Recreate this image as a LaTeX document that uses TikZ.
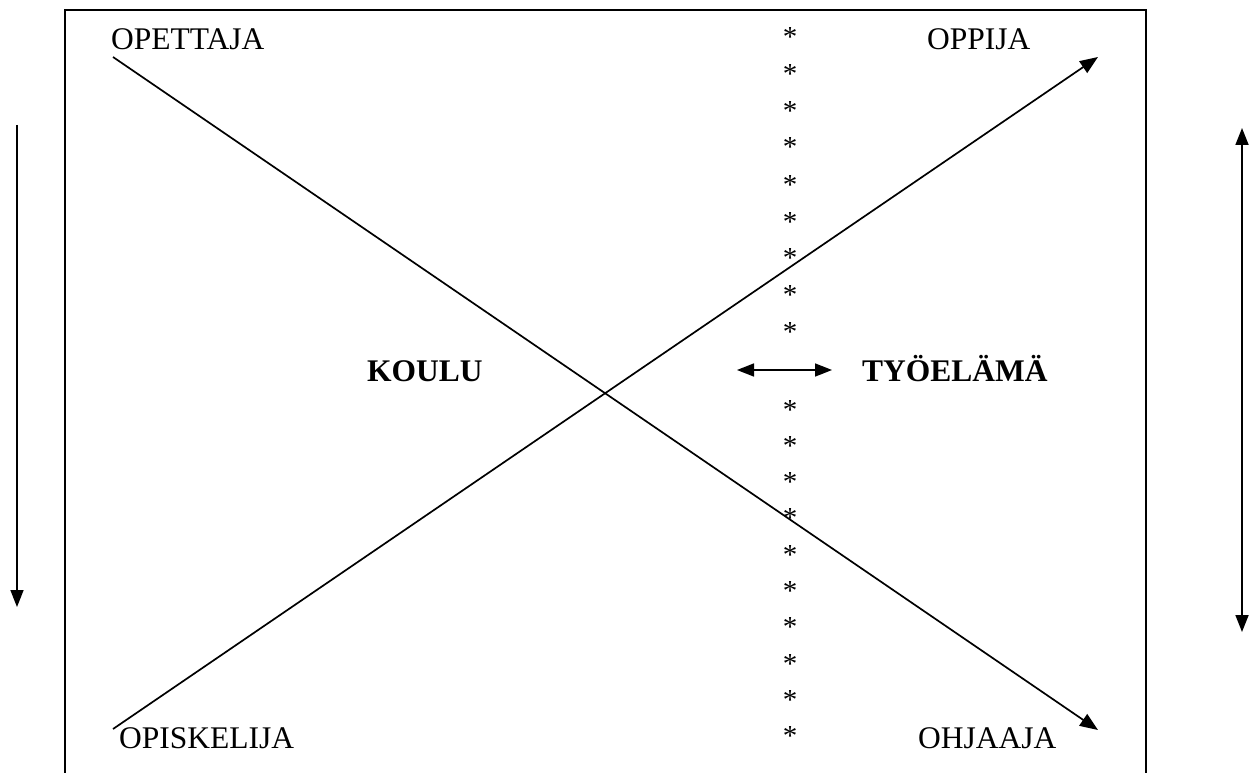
\documentclass[tikz,border=0pt]{standalone}
\usepackage{fontspec}
\setmainfont{Liberation Serif}
\usetikzlibrary{arrows.meta}
\begin{document}
\begin{tikzpicture}[x=1pt,y=-1pt,
  lbl/.style={inner sep=0pt,anchor=base west,font=\fontsize{31.5}{36}\selectfont},
  blbl/.style={lbl,font=\fontsize{31.5}{36}\selectfont\bfseries},
  star/.style={inner sep=0pt,anchor=base,font=\fontsize{29}{36}\selectfont},
  ln/.style={line width=1.7pt},
  tip/.style={-{Triangle[length=18pt,width=14pt]}},
  tips/.style={{Triangle[length=17pt,width=13pt]}-{Triangle[length=17pt,width=13pt]}}]
\useasboundingbox (0,0) rectangle (1250,773);
% frame
\draw[line width=2pt] (65,773) -- (65,10) -- (1146,10) -- (1146,773);
% labels
\node[lbl] (opettaja) at (111,50) {OPETTAJA};
\node[lbl] (oppija) at (927,50) {OPPIJA};
\node[lbl] (opiskelija) at (119,748) {OPISKELIJA};
\node[lbl] (ohjaaja) at (918,748) {OHJAAJA};
\node[blbl] (koulu) at (367,381) {KOULU};
\node[blbl] (tyoelama) at (862,381) {TYÖELÄMÄ};
% line ends
\coordinate (a1) at (113,57);
\coordinate (a2) at (1098,730);
\coordinate (b1) at (113,729);
\coordinate (b2) at (1098,57);
\draw[ln,tip] (a1) -- (a2);
\draw[ln,tip] (b1) -- (b2);
% side arrows
\coordinate (l1) at (17,125);
\coordinate (l2) at (17,607);
\draw[ln,-{Triangle[length=17pt,width=13pt]}] (l1) -- (l2);
\coordinate (r1) at (1242,128);
\coordinate (r2) at (1242,632);
\draw[ln,tips] (r1) -- (r2);
% horizontal double arrow
\coordinate (h1) at (737,370);
\coordinate (h2) at (832,370);
\draw[ln,tips] (h1) -- (h2);
% stars
\foreach \y in {33,70,107,143,180,217,253,290,327,405,441,477,513,550,586,622,659,695,731}
  \node[star] at (790,\y+14) {*};
\end{tikzpicture}
\end{document}
